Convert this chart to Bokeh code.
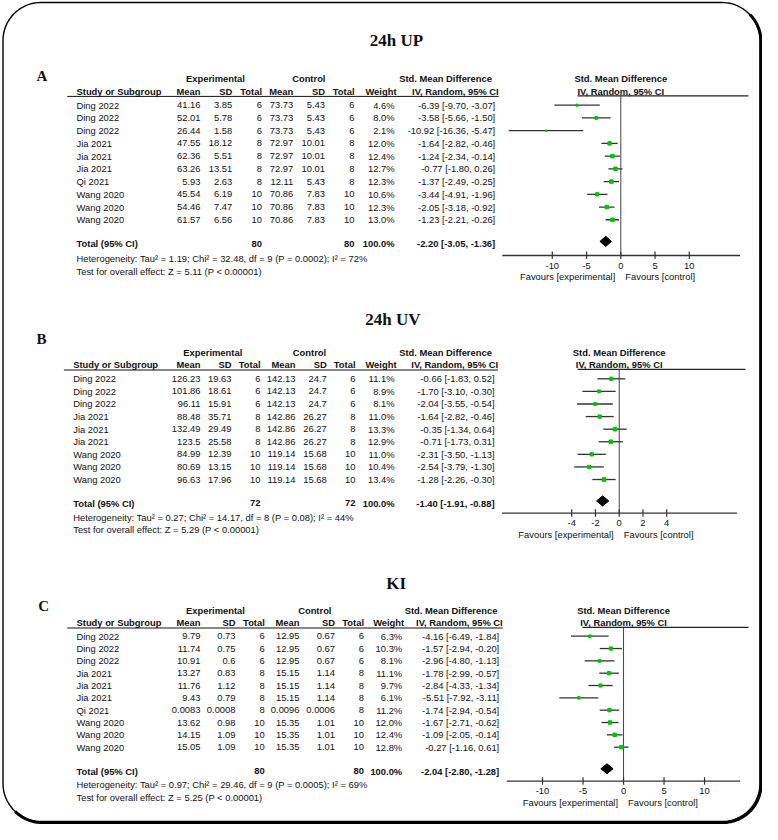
import numpy as np
from bokeh.plotting import figure
from bokeh.models import Range1d
from bokeh.core.properties import value
from bokeh.embed import file_html
from bokeh.resources import INLINE

# ---------------- data: panel A (24h UP) ----------------
up_names = ["Ding 2022"] * 3 + ["Jia 2021"] * 3 + ["Qi 2021"] + ["Wang 2020"] * 3
up_exp_mean = [41.16, 52.01, 26.44, 47.55, 62.36, 63.26, 5.93, 45.54, 54.46, 61.57]
up_exp_sd = [3.85, 5.78, 1.58, 18.12, 5.51, 13.51, 2.63, 6.19, 7.47, 6.56]
up_exp_n = [6, 6, 6, 8, 8, 8, 8, 10, 10, 10]
up_ctl_mean = [73.73, 73.73, 73.73, 72.97, 72.97, 72.97, 12.11, 70.86, 70.86, 70.86]
up_ctl_sd = [5.43, 5.43, 5.43, 10.01, 10.01, 10.01, 5.43, 7.83, 7.83, 7.83]
up_ctl_n = [6, 6, 6, 8, 8, 8, 8, 10, 10, 10]
up_weight = [4.6, 8.0, 2.1, 12.0, 12.4, 12.7, 12.3, 10.6, 12.3, 13.0]
up_smd = [-6.39, -3.58, -10.92, -1.64, -1.24, -0.77, -1.37, -3.44, -2.05, -1.23]
up_lo = [-9.70, -5.66, -16.36, -2.82, -2.34, -1.80, -2.49, -4.91, -3.18, -2.21]
up_hi = [-3.07, -1.50, -5.47, -0.46, -0.14, 0.26, -0.25, -1.96, -0.92, -0.26]
up_total_n = [80, 80]
up_total_weight = 100.0
up_total_smd = [-2.20, -3.05, -1.36]
up_het = "Heterogeneity: Tau\u00b2 = 1.19; Chi\u00b2 = 32.48, df = 9 (P = 0.0002); I\u00b2 = 72%"
up_test = "Test for overall effect: Z = 5.11 (P < 0.00001)"
up_ticks = [-10, -5, 0, 5, 10]

# ---------------- data: panel B (24h UV) ----------------
uv_names = ["Ding 2022"] * 3 + ["Jia 2021"] * 3 + ["Wang 2020"] * 3
uv_exp_mean = [126.23, 101.86, 96.11, 88.48, 132.49, 123.5, 84.99, 80.69, 96.63]
uv_exp_sd = [19.63, 18.61, 15.91, 35.71, 29.49, 25.58, 12.39, 13.15, 17.96]
uv_exp_n = [6, 6, 6, 8, 8, 8, 10, 10, 10]
uv_ctl_mean = [142.13, 142.13, 142.13, 142.86, 142.86, 142.86, 119.14, 119.14, 119.14]
uv_ctl_sd = [24.7, 24.7, 24.7, 26.27, 26.27, 26.27, 15.68, 15.68, 15.68]
uv_ctl_n = [6, 6, 6, 8, 8, 8, 10, 10, 10]
uv_weight = [11.1, 8.9, 8.1, 11.0, 13.3, 12.9, 11.0, 10.4, 13.4]
uv_smd = [-0.66, -1.70, -2.04, -1.64, -0.35, -0.71, -2.31, -2.54, -1.28]
uv_lo = [-1.83, -3.10, -3.55, -2.82, -1.34, -1.73, -3.50, -3.79, -2.26]
uv_hi = [0.52, -0.30, -0.54, -0.46, 0.64, 0.31, -1.13, -1.30, -0.30]
uv_total_n = [72, 72]
uv_total_weight = 100.0
uv_total_smd = [-1.40, -1.91, -0.88]
uv_het = "Heterogeneity: Tau\u00b2 = 0.27; Chi\u00b2 = 14.17, df = 8 (P = 0.08); I\u00b2 = 44%"
uv_test = "Test for overall effect: Z = 5.29 (P < 0.00001)"
uv_ticks = [-4, -2, 0, 2, 4]

# ---------------- data: panel C (KI) ----------------
ki_names = ["Ding 2022"] * 3 + ["Jia 2021"] * 3 + ["Qi 2021"] + ["Wang 2020"] * 3
ki_exp_mean = [9.79, 11.74, 10.91, 13.27, 11.76, 9.43, 0.0083, 13.62, 14.15, 15.05]
ki_exp_sd = [0.73, 0.75, 0.6, 0.83, 1.12, 0.79, 0.0008, 0.98, 1.09, 1.09]
ki_exp_n = [6, 6, 6, 8, 8, 8, 8, 10, 10, 10]
ki_ctl_mean = [12.95, 12.95, 12.95, 15.15, 15.15, 15.15, 0.0096, 15.35, 15.35, 15.35]
ki_ctl_sd = [0.67, 0.67, 0.67, 1.14, 1.14, 1.14, 0.0006, 1.01, 1.01, 1.01]
ki_ctl_n = [6, 6, 6, 8, 8, 8, 8, 10, 10, 10]
ki_weight = [6.3, 10.3, 8.1, 11.1, 9.7, 6.1, 11.2, 12.0, 12.4, 12.8]
ki_smd = [-4.16, -1.57, -2.96, -1.78, -2.84, -5.51, -1.74, -1.67, -1.09, -0.27]
ki_lo = [-6.49, -2.94, -4.80, -2.99, -4.33, -7.92, -2.94, -2.71, -2.05, -1.16]
ki_hi = [-1.84, -0.20, -1.13, -0.57, -1.34, -3.11, -0.54, -0.62, -0.14, 0.61]
ki_total_n = [80, 80]
ki_total_weight = 100.0
ki_total_smd = [-2.04, -2.80, -1.28]
ki_het = "Heterogeneity: Tau\u00b2 = 0.97; Chi\u00b2 = 29.46, df = 9 (P = 0.0005); I\u00b2 = 69%"
ki_test = "Test for overall effect: Z = 5.25 (P < 0.00001)"
ki_ticks = [-10, -5, 0, 5, 10]

PANELS = [
    dict(title="24h UP", letter="A", names=up_names, em=up_exp_mean, esd=up_exp_sd, en=up_exp_n,
         cm=up_ctl_mean, csd=up_ctl_sd, cn=up_ctl_n, w=up_weight, smd=up_smd, lo=up_lo, hi=up_hi,
         tot_n=up_total_n, tot_w=up_total_weight, tot=up_total_smd, het=up_het, test=up_test,
         ticks=up_ticks),
    dict(title="24h UV", letter="B", names=uv_names, em=uv_exp_mean, esd=uv_exp_sd, en=uv_exp_n,
         cm=uv_ctl_mean, csd=uv_ctl_sd, cn=uv_ctl_n, w=uv_weight, smd=uv_smd, lo=uv_lo, hi=uv_hi,
         tot_n=uv_total_n, tot_w=uv_total_weight, tot=uv_total_smd, het=uv_het, test=uv_test,
         ticks=uv_ticks),
    dict(title="KI", letter="C", names=ki_names, em=ki_exp_mean, esd=ki_exp_sd, en=ki_exp_n,
         cm=ki_ctl_mean, csd=ki_ctl_sd, cn=ki_ctl_n, w=ki_weight, smd=ki_smd, lo=ki_lo, hi=ki_hi,
         tot_n=ki_total_n, tot_w=ki_total_weight, tot=ki_total_smd, het=ki_het, test=ki_test,
         ticks=ki_ticks),
]

# ---------------- layout (pixel positions on the picture) ----------------
LAYOUTS = [
    dict(title_xy=(396, 40), letter_xy=(36, 75), h1=78.3, h2=90.7, y0=104.7, dy=12.73, tot=0.9,
         het_y=258.3, test_y=270.7, name_x=76, cols=[200, 231.7, 261.5, 292.7, 324.5, 354, 394, 494.7],
         exp_c=215, ctl_c=308.3, smd_c=445, ax=(-17.3, 17.4), fx=(501.8, 739.5), axy=255,
         topline=(577, 748)),
    dict(title_xy=(392.5, 319.3), letter_xy=(36, 338.3), h1=351.7, h2=364.3, y0=378.3, dy=12.59, tot=0.9,
         het_y=516.7, test_y=529, name_x=72.7, cols=[200, 231, 260, 295, 326.3, 355, 394, 494],
         exp_c=212.3, ctl_c=309, smd_c=445, ax=(-9.87, 9.92), fx=(501.5, 736.5), axy=512.7,
         topline=(577, 745)),
    dict(title_xy=(395.6, 583.3), letter_xy=(37.7, 605), h1=610, h2=622.3, y0=635.7, dy=12.33, tot=0.95,
         het_y=784.3, test_y=796.7, name_x=76, cols=[200, 235, 264.3, 299, 334.5, 363.5, 401.7, 498.7],
         exp_c=215, ctl_c=314.3, smd_c=450.5, ax=(-14.41, 14.4), fx=(506.3, 739.7), axy=780.7,
         topline=(582, 748)),
]

SANS = value("Liberation Sans")
SERIF = value("Liberation Serif")
FS = "9.4px"
INK = "#111111"

p = figure(width=762, height=824, output_backend="svg", toolbar_location=None,
           x_range=Range1d(0, 762), y_range=Range1d(824, 0),
           x_axis_location=None, y_axis_location=None, min_border=0)
p.grid.visible = False
p.outline_line_color = None
p.background_fill_color = "white"
p.border_fill_color = "white"


def put(g, xs, ys, texts, align="left", bold=False, size=FS, font=SANS, x_offset=0):
    g.text(x=list(xs), y=list(ys), text=list(texts), text_align=align, text_baseline="middle",
           text_font=font, text_font_size=size, text_font_style="bold" if bold else "normal",
           text_color=INK, x_offset=x_offset)


def num(v):
    return str(v)


def draw_panel(d, L):
    n = len(d["names"])
    rows = list(range(n))
    trow = n + L["tot"]
    c = L["cols"]
    # title & letter
    put(p, [L["title_xy"][0]], [L["title_xy"][1]], [d["title"]], "center", True, "17px", SERIF)
    put(p, [L["letter_xy"][0]], [L["letter_xy"][1]], [d["letter"]], "left", True, "15px", SERIF)
    # headers
    put(p, [L["exp_c"], L["ctl_c"], L["smd_c"]], [L["h1"]] * 3,
        ["Experimental", "Control", "Std. Mean Difference"], "center", True)
    put(p, [L["name_x"]], [L["h2"]], ["Study or Subgroup"], "left", True)
    put(p, [c[0], c[1], c[2], c[3], c[4], c[5], c[6] + 2, c[7] + 3.5], [L["h2"]] * 8,
        ["Mean", "SD", "Total", "Mean", "SD", "Total", "Weight", "IV, Random, 95% CI"], "right", True)
    p.segment(x0=[L["name_x"] - 9.3], y0=[L["h2"] + 5.2], x1=[c[7] + 3.5], y1=[L["h2"] + 5.2],
              line_color=INK, line_width=1)
    p.segment(x0=[L["topline"][0]], y0=[L["h2"] + 4.6], x1=[L["topline"][1]], y1=[L["h2"] + 4.6],
              line_color="#222222", line_width=1.2)

    # table rows
    tb = p.subplot(x_source=Range1d(0, 1), x_target=Range1d(0, 1),
                   y_source=Range1d(0, 1), y_target=Range1d(L["y0"], L["y0"] + L["dy"]))
    put(tb, [L["name_x"]] * n, rows, d["names"])
    for key, xr in zip(["em", "esd", "en", "cm", "csd", "cn"], c[:6]):
        put(tb, [xr] * n, rows, [num(v) for v in d[key]], "right")
    put(tb, [c[6]] * n, rows, [f"{v:.1f}%" for v in d["w"]], "right")
    put(tb, [c[7]] * n, rows,
        [f"{s:.2f} [{a:.2f}, {b:.2f}]" for s, a, b in zip(d["smd"], d["lo"], d["hi"])], "right")
    # total row
    ts, tl, th = d["tot"]
    put(tb, [L["name_x"]], [trow], ["Total (95% CI)"], "left", True)
    put(tb, [c[2], c[5], c[6], c[7]], [trow] * 4,
        [str(d["tot_n"][0]), str(d["tot_n"][1]), f"{d['tot_w']:.1f}%",
         f"{ts:.2f} [{tl:.2f}, {th:.2f}]"], "right", True)
    put(p, [L["name_x"], L["name_x"]], [L["het_y"], L["test_y"]], [d["het"], d["test"]])

    # forest plot
    fr = p.subplot(x_source=Range1d(*L["ax"]), x_target=Range1d(*L["fx"]),
                   y_source=Range1d(0, 1), y_target=Range1d(L["y0"], L["y0"] + L["dy"]))
    fa = p.subplot(x_source=Range1d(*L["ax"]), x_target=Range1d(*L["fx"]),
                   y_source=Range1d(0, 1), y_target=Range1d(0, 1))
    axy = L["axy"]
    put(fa, [0], [L["h1"]], ["Std. Mean Difference"], "center", True)
    put(fa, [0], [L["h2"]], ["IV, Random, 95% CI"], "center", True)
    fa.segment(x0=[0], y0=[L["h2"] + 4.6], x1=[0], y1=[axy], line_color="#444444", line_width=1)
    fa.segment(x0=[L["ax"][0]], y0=[axy], x1=[L["ax"][1]], y1=[axy], line_color="#333333", line_width=1.3)
    tk = d["ticks"]
    fa.segment(x0=tk, y0=[axy - 4] * len(tk), x1=tk, y1=[axy + 3.5] * len(tk),
               line_color="#333333", line_width=1.2)
    put(fa, tk, [axy + 10] * len(tk), [str(t) for t in tk], "center")
    put(fa, [0], [axy + 21], ["Favours [experimental]"], "right", x_offset=-5.5)
    put(fa, [0], [axy + 21], ["Favours [control]"], "left", x_offset=4.5)

    fr.segment(x0=d["lo"], y0=rows, x1=d["hi"], y1=rows, line_color="#333333", line_width=1.3)
    fr.scatter(x=d["smd"], y=rows, marker="square",
               size=[1.0 * np.sqrt(w) for w in d["w"]], color="#00c400")
    dy_d = 0.4
    fr.patch(x=[tl, ts, th, ts], y=[trow - 0.2, trow - 0.2 - dy_d, trow - 0.2, trow - 0.2 + dy_d],
             color="black")


for d, L in zip(PANELS, LAYOUTS):
    draw_panel(d, L)


# ---------------- rounded frame with shadow ----------------
def arc(cx, cy, r, a0, a1):
    t = np.radians(np.linspace(a0, a1, 24))
    return cx + r * np.cos(t), cy + r * np.sin(t)


X0, Y0, X1, Y1, R = 2.5, 2, 759.5, 821, 38
parts = [arc(X1 - R, Y0 + R, R, -90, 0), arc(X1 - R, Y1 - R, R, 0, 90),
         arc(X0 + R, Y1 - R, R, 90, 180), arc(X0 + R, Y0 + R, R, 180, 270)]
bx = np.concatenate([a[0] for a in parts] + [parts[0][0][:1]])
by = np.concatenate([a[1] for a in parts] + [parts[0][1][:1]])
p.line(bx, by, line_color="black", line_width=1.4)
sh = [arc(X1 - R + 1, Y0 + R + 1, R, -45, 0), arc(X1 - R + 1, Y1 - R + 1, R, 0, 90),
      arc(X0 + R + 1, Y1 - R + 1, R, 90, 135)]
sx = np.concatenate([a[0] for a in sh])
sy = np.concatenate([a[1] for a in sh])
p.line(sx, sy, line_color="black", line_width=3)

open("out.html", "w").write(file_html(p, INLINE))
